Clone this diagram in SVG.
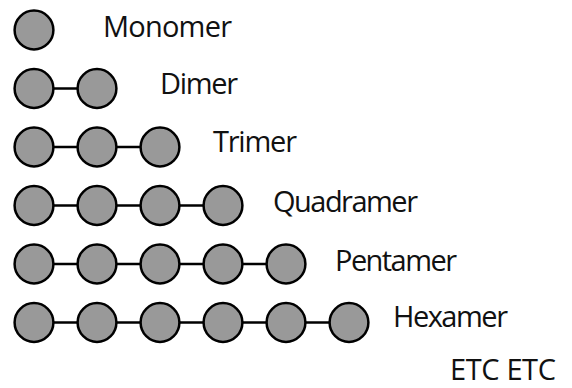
<svg xmlns="http://www.w3.org/2000/svg" width="572" height="388" viewBox="0 0 572 388">
  <style>
    .unit { fill: #999999; stroke: #000000; stroke-width: 2.5; }
    .bond { stroke: #000000; stroke-width: 2.5; fill: none; }
    .label { font-family: "Open Sans", "Liberation Sans", sans-serif; font-size: 29px; fill: #111111; }
  </style>
  <defs>
    <circle id="u" r="19.4" class="unit"/>
  </defs>

  <!-- bonds linking neighbouring units -->
  <g id="connectors">
    <line class="bond" x1="34" y1="88.5" x2="97" y2="88.5"/>
    <line class="bond" x1="34" y1="147" x2="160" y2="147"/>
    <line class="bond" x1="34" y1="205.5" x2="223" y2="205.5"/>
    <line class="bond" x1="34" y1="264" x2="286" y2="264"/>
    <line class="bond" x1="34" y1="322.5" x2="349" y2="322.5"/>
  </g>

  <g id="monomer">
    <use href="#u" x="34" y="30"/>
    <text class="label" x="103" y="37" textLength="129">Monomer</text>
  </g>

  <g id="dimer">
    <use href="#u" x="34" y="88.5"/>
    <use href="#u" x="97" y="88.5"/>
    <text class="label" x="160" y="94" textLength="78">Dimer</text>
  </g>

  <g id="trimer">
    <use href="#u" x="34" y="147"/>
    <use href="#u" x="97" y="147"/>
    <use href="#u" x="160" y="147"/>
    <text class="label" x="213" y="152" textLength="84">Trimer</text>
  </g>

  <g id="quadramer">
    <use href="#u" x="34" y="205.5"/>
    <use href="#u" x="97" y="205.5"/>
    <use href="#u" x="160" y="205.5"/>
    <use href="#u" x="223" y="205.5"/>
    <text class="label" x="273" y="211.5" textLength="145">Quadramer</text>
  </g>

  <g id="pentamer">
    <use href="#u" x="34" y="264"/>
    <use href="#u" x="97" y="264"/>
    <use href="#u" x="160" y="264"/>
    <use href="#u" x="223" y="264"/>
    <use href="#u" x="286" y="264"/>
    <text class="label" x="335" y="270.5" textLength="122">Pentamer</text>
  </g>

  <g id="hexamer">
    <use href="#u" x="34" y="322.5"/>
    <use href="#u" x="97" y="322.5"/>
    <use href="#u" x="160" y="322.5"/>
    <use href="#u" x="223" y="322.5"/>
    <use href="#u" x="286" y="322.5"/>
    <use href="#u" x="349" y="322.5"/>
    <text class="label" x="393" y="327" textLength="115">Hexamer</text>
  </g>

  <g id="etc">
    <text class="label" x="450" y="380" textLength="106">ETC ETC</text>
  </g>
</svg>
